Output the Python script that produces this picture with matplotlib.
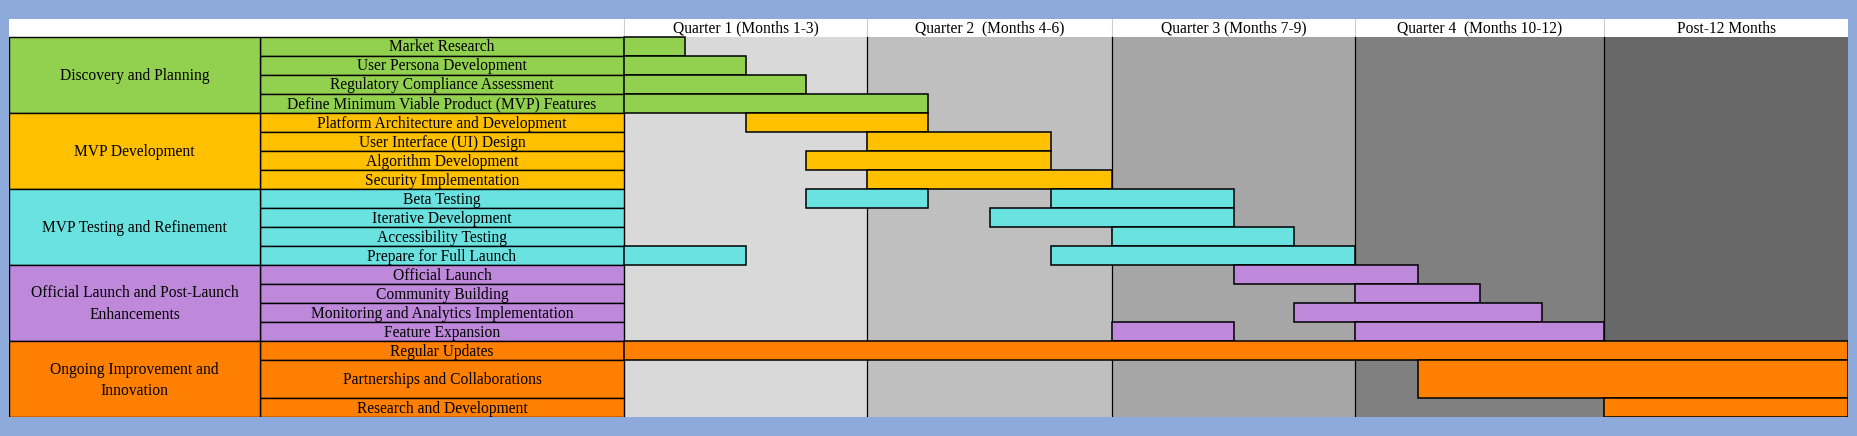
import matplotlib
matplotlib.use("Agg")
import matplotlib.pyplot as plt
import numpy as np

# ---------------- data ----------------
phases = ["Discovery and Planning", "MVP Development", "MVP Testing and Refinement",
          "Official Launch and Post-Launch\nEnhancements", "Ongoing Improvement and\nInnovation"]
phase_colors = ["#92D050", "#FFC000", "#6AE2E0", "#BE88DB", "#FF8000"]

tasks = ["Market Research", "User Persona Development", "Regulatory Compliance Assessment",
         "Define Minimum Viable Product (MVP) Features",
         "Platform Architecture and Development", "User Interface (UI) Design",
         "Algorithm Development", "Security Implementation",
         "Beta Testing", "Iterative Development", "Accessibility Testing", "Prepare for Full Launch",
         "Official Launch", "Community Building", "Monitoring and Analytics Implementation",
         "Feature Expansion",
         "Regular Updates", "Partnerships and Collaborations", "Research and Development"]
task_phase = [0, 0, 0, 0, 1, 1, 1, 1, 2, 2, 2, 2, 3, 3, 3, 3, 4, 4, 4]
task_rows = [1, 1, 1, 1, 1, 1, 1, 1, 1, 1, 1, 1, 1, 1, 1, 1, 1, 2, 1]

periods = ["Quarter 1 (Months 1-3)", "Quarter 2  (Months 4-6)", "Quarter 3 (Months 7-9)",
           "Quarter 4  (Months 10-12)", "Post-12 Months"]
period_colors = ["#D9D9D9", "#BFBFBF", "#A6A6A6", "#808080", "#686868"]
period_length = 4  # sub-steps per period

# bars: task index, start, end (in quarter/4 steps)
bar_task = [0, 1, 2, 3, 4, 5, 6, 7, 8, 8, 9, 10, 11, 11, 12, 13, 14, 15, 15, 16, 17, 18]
bar_start = [0, 0, 0, 0, 2, 4, 3, 4, 3, 7, 6, 8, 0, 7, 10, 12, 11, 8, 12, 0, 13, 16]
bar_end = [1, 2, 3, 5, 5, 7, 7, 8, 5, 10, 10, 11, 2, 12, 13, 14, 15, 10, 16, 20, 20, 20]

# ---------------- layout ----------------
W, H = 1857, 436
X0_PX = 623.6
col_px = [243.8, 244.2, 243.8, 248.9, 243.9]   # rendered width of each period column
LEFT_PX = 9.1
CATR_PX = 260.3
TOP_PX, ROWTOP_PX, BOTTOM_PX = 18.7, 37.0, 417.3
n_per = len(periods)
x_max = n_per * period_length
edges_px = X0_PX + np.concatenate([[0], np.cumsum(col_px)])
RIGHT_PX = edges_px[-1]
slope0 = col_px[0] / period_length
slope1 = col_px[-1] / period_length
knots_x = np.concatenate([[-100], np.arange(n_per + 1) * period_length, [x_max + 100]])
knots_px = np.concatenate([[X0_PX - 100 * slope0], edges_px, [RIGHT_PX + 100 * slope1]])


def fwd(x):
    return np.interp(x, knots_x, knots_px)


def inv(p):
    return np.interp(p, knots_px, knots_x)


CAT_L = inv(LEFT_PX)
CAT_R = inv(CATR_PX)
n_rows = sum(task_rows)
row_px = (BOTTOM_PX - ROWTOP_PX) / n_rows
HDR = (ROWTOP_PX - TOP_PX) / row_px

fig = plt.figure(figsize=(W / 100, H / 100), dpi=100, facecolor="#8EAADB")
ax = fig.add_axes([LEFT_PX / W, 1 - BOTTOM_PX / H, (RIGHT_PX - LEFT_PX) / W,
                   (BOTTOM_PX - TOP_PX) / H])
ax.set_xscale("function", functions=(fwd, inv))
ax.set_xlim(CAT_L, x_max)
ax.set_ylim(n_rows, -HDR)
ax.axis("off")

font = dict(family=["Liberation Serif", "DejaVu Serif"], fontsize=11.2, color="black")

# header
ax.barh(-HDR / 2, x_max - CAT_L, left=CAT_L, height=HDR, color="white", linewidth=0)
for i, p in enumerate(periods):
    xs = i * period_length
    ax.plot([xs, xs], [-HDR, 0], color="#CCCCCC", lw=0.8)
    ax.text(inv((fwd(xs) + fwd(xs + period_length)) / 2), -HDR / 2 + 0.05, p,
            ha="center", va="center", **font)

# period backgrounds
for i, c in enumerate(period_colors):
    ax.barh(n_rows / 2, period_length, left=i * period_length, height=n_rows,
            color=c, linewidth=0)
for i in range(1, n_per):
    ax.plot([i * period_length] * 2, [0, n_rows], color="black", lw=0.9)

# task rows
row_top = np.concatenate([[0], np.cumsum(task_rows)[:-1]])
cat_mid = inv((LEFT_PX + CATR_PX) / 2)
task_mid = inv((CATR_PX + X0_PX) / 2)
for t, name in enumerate(tasks):
    yc = row_top[t] + task_rows[t] / 2
    ax.barh(yc, 0 - CAT_R, left=CAT_R, height=task_rows[t], color=phase_colors[task_phase[t]],
            edgecolor="black", linewidth=1.0)
    ax.text(task_mid, yc + 0.05, name, ha="center", va="center", **font)

# phase cells
for p, name in enumerate(phases):
    idx = [t for t in range(len(tasks)) if task_phase[t] == p]
    top = row_top[idx[0]]
    bot = row_top[idx[-1]] + task_rows[idx[-1]]
    ax.barh((top + bot) / 2, CAT_R - CAT_L, left=CAT_L, height=bot - top,
            color=phase_colors[p], edgecolor="black", linewidth=1.0)
    ax.text(cat_mid, (top + bot) / 2 + 0.05, name, ha="center", va="center",
            linespacing=1.45, **font)

# gantt bars
for t, s, e in zip(bar_task, bar_start, bar_end):
    yc = row_top[t] + task_rows[t] / 2
    ax.barh(yc, e - s, left=s, height=task_rows[t], color=phase_colors[task_phase[t]],
            edgecolor="black", linewidth=1.1, zorder=3)

fig.savefig("out.png", dpi=100, facecolor=fig.get_facecolor())
